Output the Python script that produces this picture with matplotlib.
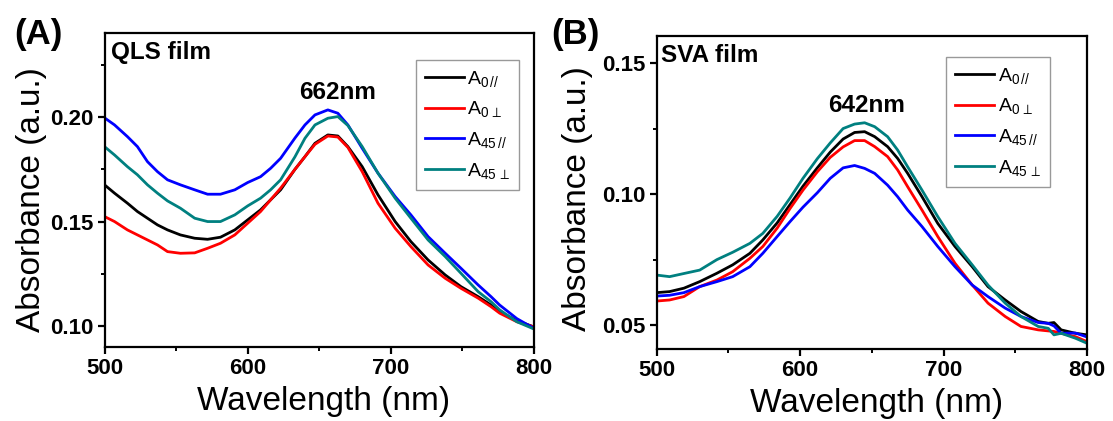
import matplotlib
matplotlib.use("Agg")
import matplotlib.pyplot as plt
from matplotlib.ticker import MultipleLocator, FormatStrFormatter

plt.rcParams['font.family'] = ['Liberation Sans', 'DejaVu Sans']
plt.rcParams['mathtext.fontset'] = 'custom'
plt.rcParams['mathtext.rm'] = 'Liberation Sans'
plt.rcParams['mathtext.it'] = 'Liberation Sans:italic'
plt.rcParams['mathtext.bf'] = 'Liberation Sans:bold'

# ---------------- Data: panel A (QLS film) ----------------
wl_a = [500, 507, 516, 523, 530, 537, 544, 553, 563, 572, 581, 591, 600, 609, 616,
        623, 633, 640, 647, 656, 663, 670, 680, 691, 703, 714, 726, 738, 749, 761,
        770, 776, 788, 800]
a0_par_a = [0.1676, 0.1636, 0.1588, 0.1548, 0.1516, 0.1484, 0.1460, 0.1436, 0.1420, 0.1415,
            0.1425, 0.1460, 0.1508, 0.1556, 0.1604, 0.1652, 0.1750, 0.1811, 0.1875, 0.1915,
            0.1910, 0.1859, 0.1763, 0.1628, 0.1500, 0.1404, 0.1316, 0.1244, 0.1188, 0.1140,
            0.1100, 0.1068, 0.1025, 0.0995]
a0_perp_a = [0.1524, 0.1500, 0.1460, 0.1436, 0.1412, 0.1388, 0.1356, 0.1348, 0.1350, 0.1372,
             0.1396, 0.1436, 0.1492, 0.1548, 0.1604, 0.1660, 0.1750, 0.1811, 0.1870, 0.1910,
             0.1905, 0.1855, 0.1739, 0.1588, 0.1468, 0.1380, 0.1292, 0.1228, 0.1180, 0.1133,
             0.1092, 0.1061, 0.1020, 0.0995]
a45_par_a = [0.1997, 0.1963, 0.1907, 0.1859, 0.1787, 0.1739, 0.1700, 0.1676, 0.1652, 0.1631,
             0.1631, 0.1652, 0.1687, 0.1715, 0.1755, 0.1803, 0.1900, 0.1963, 0.2011, 0.2035,
             0.2019, 0.1963, 0.1851, 0.1732, 0.1620, 0.1532, 0.1428, 0.1348, 0.1276, 0.1196,
             0.1140, 0.1100, 0.1035, 0.0988]
a45_perp_a = [0.1859, 0.1819, 0.1763, 0.1724, 0.1676, 0.1636, 0.1599, 0.1564, 0.1516, 0.1500,
              0.1500, 0.1532, 0.1575, 0.1612, 0.1652, 0.1700, 0.1810, 0.1899, 0.1963, 0.1995,
              0.2003, 0.1960, 0.1859, 0.1732, 0.1612, 0.1516, 0.1412, 0.1332, 0.1252, 0.1164,
              0.1116, 0.1077, 0.1020, 0.0985]

# ---------------- Data: panel B (SVA film) ----------------
wl_b = [500, 509, 519, 530, 542, 553, 565, 574, 584, 593, 602, 612, 621, 630, 638, 645,
        652, 661, 668, 675, 685, 696, 708, 720, 731, 743, 754, 766, 773, 777, 782, 792, 800]
a0_par_b = [0.0624, 0.0628, 0.0641, 0.0666, 0.0698, 0.0730, 0.0774, 0.0825, 0.0890, 0.0960,
            0.1030, 0.1100, 0.1160, 0.1210, 0.1235, 0.1238, 0.1219, 0.1181, 0.1136, 0.1079,
            0.0990, 0.0888, 0.0800, 0.0723, 0.0647, 0.0596, 0.0552, 0.0514, 0.0507, 0.0510,
            0.0482, 0.0469, 0.0463]
a0_perp_b = [0.0592, 0.0596, 0.0609, 0.0647, 0.0672, 0.0704, 0.0755, 0.0800, 0.0870, 0.0945,
             0.1015, 0.1085, 0.1140, 0.1180, 0.1204, 0.1204, 0.1181, 0.1143, 0.1092, 0.1028,
             0.0939, 0.0838, 0.0736, 0.0653, 0.0584, 0.0533, 0.0495, 0.0482, 0.0478, 0.0476,
             0.0469, 0.0456, 0.0437]
a45_par_b = [0.0611, 0.0614, 0.0624, 0.0647, 0.0666, 0.0685, 0.0723, 0.0774, 0.0838, 0.0895,
             0.0950, 0.1005, 0.1060, 0.1100, 0.1109, 0.1098, 0.1079, 0.1034, 0.0990, 0.0939,
             0.0876, 0.0800, 0.0723, 0.0653, 0.0609, 0.0565, 0.0533, 0.0510, 0.0507, 0.0497,
             0.0469, 0.0470, 0.0455]
a45_perp_b = [0.0691, 0.0685, 0.0697, 0.0710, 0.0750, 0.0778, 0.0812, 0.0850, 0.0915, 0.0985,
              0.1060, 0.1135, 0.1195, 0.1250, 0.1267, 0.1272, 0.1257, 0.1219, 0.1168, 0.1104,
              0.1015, 0.0914, 0.0812, 0.0730, 0.0653, 0.0584, 0.0533, 0.0495, 0.0488, 0.0463,
              0.0469, 0.0450, 0.0431]

labels = [r'A$_{\mathregular{0}\,//}$', r'A$_{\mathregular{0}\,\perp}$',
          r'A$_{\mathregular{45}\,//}$', r'A$_{\mathregular{45}\,\perp}$']
colors = ['#000000', '#ff0000', '#0000ff', '#008080']

fig = plt.figure(figsize=(11.13, 4.21), dpi=100)
axA = fig.add_axes([0.0939, 0.1758, 0.3859, 0.7451])
axB = fig.add_axes([0.5900, 0.1710, 0.3866, 0.7435])


def style(ax, ylim, ymaj, ymin):
    ax.set_xlim(500, 800)
    ax.set_ylim(*ylim)
    ax.xaxis.set_major_locator(MultipleLocator(100))
    ax.xaxis.set_minor_locator(MultipleLocator(50))
    ax.yaxis.set_major_locator(MultipleLocator(ymaj))
    ax.yaxis.set_minor_locator(MultipleLocator(ymin))
    ax.yaxis.set_major_formatter(FormatStrFormatter('%.2f'))
    for s in ax.spines.values():
        s.set_linewidth(1.6)
    ax.tick_params(which='major', direction='out', length=5, width=1.6,
                   labelsize=16, pad=3)
    ax.tick_params(which='minor', direction='out', length=3, width=1.4)
    for lab in ax.get_xticklabels() + ax.get_yticklabels():
        lab.set_fontweight('bold')
    ax.set_xlabel('Wavelength (nm)', fontsize=24)
    ax.set_ylabel('Absorbance (a.u.)', fontsize=24)


for ax, wl, series in [(axA, wl_a, [a0_par_a, a0_perp_a, a45_par_a, a45_perp_a]),
                       (axB, wl_b, [a0_par_b, a0_perp_b, a45_par_b, a45_perp_b])]:
    for ys, c, lab in zip(series, colors, labels):
        ax.plot(wl, ys, color=c, lw=2.0, label=lab)

style(axA, (0.0899, 0.2402), 0.05, 0.025)
style(axB, (0.0409, 0.1603), 0.05, 0.025)

axA.yaxis.set_label_coords(-0.135, 0.47)
axB.yaxis.set_label_coords(-0.147, 0.48)
axA.xaxis.set_label_coords(0.51, -0.125)
axB.xaxis.set_label_coords(0.51, -0.125)

axA.text(0.015, 0.975, 'QLS film', transform=axA.transAxes, ha='left', va='top',
         fontsize=17.5, fontweight='bold')
axB.text(0.010, 0.975, 'SVA film', transform=axB.transAxes, ha='left', va='top',
         fontsize=17.5, fontweight='bold')
axA.text(663, 0.212, '662nm', ha='center', va='center', fontsize=17.5, fontweight='bold')
axB.text(646, 0.1337, '642nm', ha='center', va='center', fontsize=17.5, fontweight='bold')

fig.text(14 / 1113, 1 - 18 / 421, '(A)', ha='left', va='top', fontsize=25, fontweight='bold')
fig.text(551 / 1113, 1 - 18 / 421, '(B)', ha='left', va='top', fontsize=25, fontweight='bold')

for ax, anchor in [(axA, (0.725, 0.915)), (axB, (0.673, 0.933))]:
    leg = ax.legend(loc='upper left', bbox_to_anchor=anchor, fontsize=14,
                    frameon=True, fancybox=False, handlelength=2.0,
                    handletextpad=0.2, labelspacing=0.55, borderpad=0.45,
                    borderaxespad=0.0)
    leg.get_frame().set_edgecolor('#808080')
    leg.get_frame().set_linewidth(1.0)

fig.savefig('out.png', dpi=100)
